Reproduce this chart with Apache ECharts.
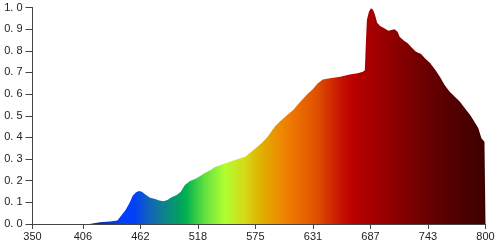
<!DOCTYPE html>
<html>
<head>
<meta charset="utf-8">
<script src="https://cdn.jsdelivr.net/npm/echarts@6/dist/echarts.min.js"></script>
<style>
html,body{margin:0;padding:0;background:#fff;}
#chart{width:500px;height:245px;}
</style>
</head>
<body>
<div id="chart"></div>
<script>
// Plotted x domain (the "350" label sits at the axis origin in the reference)
const xMin = 357;
const xMax = 800;
const xTickValues = [357, 406.25, 462.5, 518.75, 575, 631.25, 687.5, 743.75, 800];
const xTickLabels = ['350', '406', '462', '518', '575', '631', '687', '743', '800'];

const wavelengths = [357, 413, 414, 423, 433, 440, 441, 444, 448, 452, 455, 458, 461, 464, 467, 472, 477, 481, 485, 489, 493, 498, 502, 506, 511, 516, 521, 526, 532, 535, 545, 555, 565, 574, 581, 587, 594, 599, 606, 612, 618, 625, 631, 636, 641, 648, 658, 667, 675, 680, 682, 683, 684, 686, 688, 690, 692, 694, 697, 701, 705, 708, 711, 714, 716, 720, 724, 728, 732, 737, 741, 746, 751, 756, 760, 765, 770, 775, 780, 785, 789, 793, 796, 799, 800];
const intensity = [0, 0, 0.006, 0.008, 0.012, 0.016, 0.02, 0.04, 0.065, 0.098, 0.13, 0.146, 0.152, 0.149, 0.137, 0.121, 0.115, 0.108, 0.105, 0.111, 0.123, 0.134, 0.149, 0.18, 0.199, 0.208, 0.222, 0.237, 0.252, 0.262, 0.28, 0.296, 0.311, 0.345, 0.373, 0.403, 0.45, 0.473, 0.503, 0.527, 0.56, 0.596, 0.622, 0.65, 0.668, 0.673, 0.68, 0.69, 0.696, 0.703, 0.71, 0.836, 0.942, 0.98, 0.996, 0.99, 0.965, 0.93, 0.915, 0.904, 0.893, 0.896, 0.899, 0.888, 0.865, 0.847, 0.835, 0.814, 0.796, 0.785, 0.765, 0.742, 0.711, 0.676, 0.642, 0.611, 0.588, 0.565, 0.534, 0.503, 0.473, 0.442, 0.396, 0.38, 0.374];

// spectral colour stops (wavelength -> colour)
const colorWavelengths = [410, 430, 445, 456, 470, 485, 500, 507, 525, 545, 565, 580, 605, 635, 660, 672, 700, 730, 760, 800];
const colorValues = ['#0a1a70', '#0a30c0', '#0040ff', '#0040f8', '#1060c0', '#108090', '#00a060', '#00b050', '#60e040', '#b0ff30', '#d8d818', '#e0b000', '#f08000', '#e05000', '#c41000', '#b80000', '#9a0000', '#780000', '#5a0000', '#3c0000'];

const chart = echarts.init(document.getElementById('chart'), null, {renderer: 'canvas'});
const data = wavelengths.map((w, i) => [w, intensity[i]]);
const stops = colorWavelengths.map((w, i) => ({
  offset: Math.min(1, Math.max(0, (w - xMin) / (xMax - xMin))),
  color: colorValues[i]
}));

const font = 'Liberation Sans';
chart.setOption({
  animation: false,
  grid: {left: 32.5, right: 14.5, top: 7.5, bottom: 21, containLabel: false},
  xAxis: {
    type: 'value',
    min: xMin,
    max: xMax,
    splitLine: {show: false},
    axisLine: {show: true, lineStyle: {color: '#444', width: 1}},
    axisTick: {show: true, length: 5, lineStyle: {color: '#444'}, customValues: xTickValues},
    axisLabel: {
      customValues: xTickValues,
      color: '#222', fontFamily: font, fontSize: 11, margin: 7,
      formatter: function (v) {
        let idx = 0, best = Infinity;
        xTickValues.forEach((t, i) => { const d = Math.abs(t - v); if (d < best) { best = d; idx = i; } });
        return xTickLabels[idx];
      }
    }
  },
  yAxis: {
    type: 'value',
    min: 0,
    max: 1,
    interval: 0.1,
    splitLine: {show: false},
    axisLine: {show: true, lineStyle: {color: '#444', width: 1}},
    axisTick: {show: true, length: 7, lineStyle: {color: '#444'}},
    axisLabel: {
      color: '#222', fontFamily: font, fontSize: 11, margin: 10,
      formatter: v => v.toFixed(1).replace('.', '. ')
    }
  },
  series: [{
    type: 'line',
    data: data,
    showSymbol: false,
    symbol: 'none',
    lineStyle: {width: 0},
    areaStyle: {
      opacity: 1,
      color: {type: 'linear', x: 0, y: 0, x2: 1, y2: 0, colorStops: stops}
    },
    z: 1
  }]
});
</script>
</body>
</html>
